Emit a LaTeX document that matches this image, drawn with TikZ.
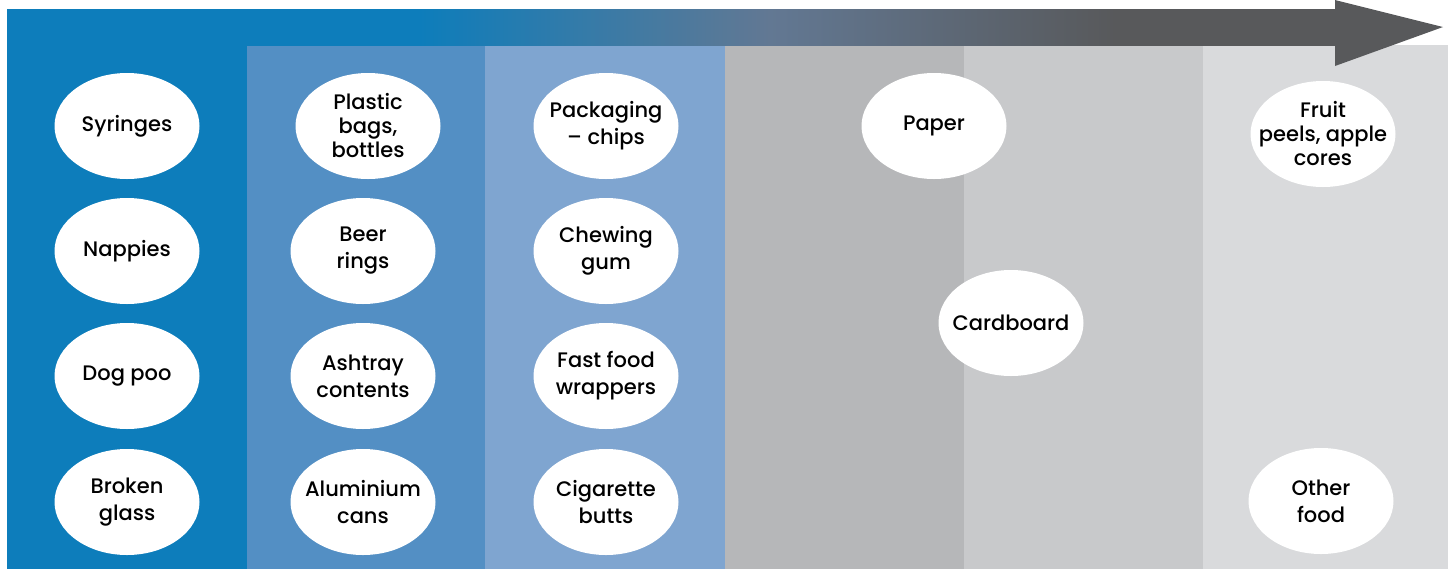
\documentclass[tikz,border=0pt]{standalone}
\usepackage{fontspec}
\setmainfont{Poppins}[UprightFont={* Medium}]
\usepackage{tikz}
\usepackage{xcolor}
\usetikzlibrary{shapes.geometric, positioning, calc}

\definecolor{litterBlue}{HTML}{0D7DBB}
\definecolor{litterMid}{HTML}{538FC4}
\definecolor{litterPale}{HTML}{7FA5D0}
\definecolor{litterGreyA}{HTML}{B6B7B9}
\definecolor{litterGreyB}{HTML}{C8C9CB}
\definecolor{litterGreyC}{HTML}{D9DADC}
\definecolor{arrowSlate}{HTML}{627893}
\definecolor{arrowGrey}{HTML}{58595B}

% blue -> slate -> grey along the arrow body (path spans 25bp..75bp)
\pgfdeclarehorizontalshading{arrowfade}{100bp}{
    color(0bp)=(litterBlue); color(40.5bp)=(litterBlue);
    color(53.7bp)=(arrowSlate); color(66.7bp)=(arrowGrey);
    color(100bp)=(arrowGrey)}

\tikzset{
    item/.style={ellipse, fill=white, minimum width=72.5pt, minimum height=53pt,
        inner sep=-8pt, align=center, font=\fontsize{10.5}{13.5}\selectfont},
    item3/.style={item, font=\fontsize{10.5}{12}\selectfont}
}

\begin{document}
\begin{tikzpicture}[x=0.5pt, y=-0.5pt]
    % =========================================================
    % CANVAS
    % =========================================================
    \useasboundingbox (0,0) rectangle (1448,569);

    % =========================================================
    % COLUMNS (DECAY TIME BANDS)
    % =========================================================
    \fill[litterBlue]  (7,9)    rectangle (247,569);
    \fill[litterMid]   (247,45) rectangle (485,569);
    \fill[litterPale]  (485,45) rectangle (725,569);
    \fill[litterGreyA] (725,45) rectangle (964,569);
    \fill[litterGreyB] (964,45) rectangle (1203,569);
    \fill[litterGreyC] (1203,45) rectangle (1448,569);

    % =========================================================
    % TOP ARROW (BLUE TO GREY)
    % =========================================================
    \shade[shading=arrowfade] (7,9) rectangle (1336,45);
    \fill[arrowGrey] (1335,0) -- (1443,27) -- (1335,66) -- cycle;

    % =========================================================
    % ITEMS
    % =========================================================
    \node[item] (syringes) at (127,126) {Syringes};
    \node[item] (nappies)  at (127,251) {Nappies};
    \node[item] (dogpoo)   at (127,376) {Dog poo};
    \node[item] (glass)    at (127,502) {Broken\\glass};

    \node[item3] (plastic) at (368,126) {Plastic\\bags,\\bottles};
    \node[item] (beer)     at (363,251) {Beer\\rings};
    \node[item] (ashtray)  at (363,376) {Ashtray\\contents};
    \node[item] (cans)     at (363,502) {Aluminium\\cans};

    \node[item] (chips)    at (606,126) {Packaging\\– chips};
    \node[item] (gum)      at (606,251) {Chewing\\gum};
    \node[item] (wrappers) at (606,376) {Fast food\\wrappers};
    \node[item] (butts)    at (606,502) {Cigarette\\butts};

    \node[item] (paper)     at (934,126) {Paper};
    \node[item] (cardboard) at (1011,323) {Cardboard};

    \node[item3] (fruit)    at (1323,134) {Fruit\\peels, apple\\cores};
    \node[item] (food)      at (1321,501) {Other\\food};
\end{tikzpicture}
\end{document}
